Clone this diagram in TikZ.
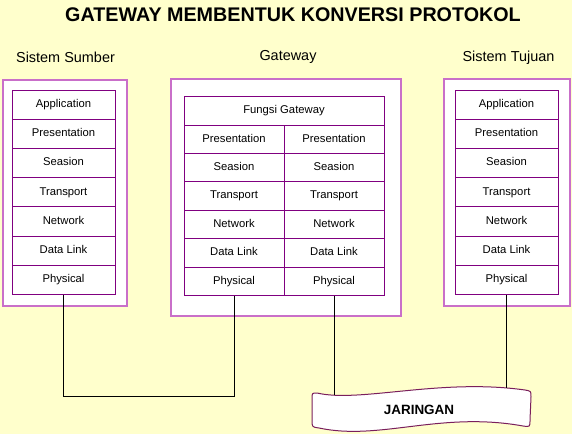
\documentclass[tikz,border=0pt]{standalone}
\usepackage{fontspec}
\setmainfont{Liberation Sans}
\usetikzlibrary{positioning}
\tikzset{>=stealth}
\definecolor{bgyellow}{HTML}{FFFFCC}
\definecolor{boxpink}{HTML}{C96FC9}
\definecolor{lyrpurple}{HTML}{800080}
\definecolor{bandpurple}{HTML}{7A1F5C}

\begin{document}
\begin{tikzpicture}[x=1bp,y=-1bp,
	outer/.style = {% outer system boxes
		draw=boxpink, line width=1.3bp, fill=white, inner sep=0pt,},
	lyr/.style = {% layer cells
		draw=lyrpurple, line width=0.9bp, fill=white, inner sep=0pt,
		text height=8.2bp, text depth=2.2bp,
		minimum height=29.2bp, font=\fontsize{11.3}{13}\selectfont,},
	glyr/.style = {% gateway layer cells
		lyr, minimum width=100bp, minimum height=28.4bp,},
	lbl/.style = {% system labels
		inner sep=0pt, font=\fontsize{14.5}{17}\selectfont,},
	wire/.style = {% connectors
		draw=black, line width=0.8bp,},
	]
	
	% background
	\useasboundingbox (0,0) rectangle (572,434);
	\fill[bgyellow] (0,0) rectangle (572,434);
	
	% titles
	\node[inner sep=0pt, font=\bfseries\fontsize{19.8}{23}\selectfont] (title) at (293,15) {GATEWAY MEMBENTUK KONVERSI PROTOKOL};
	\node[lbl] (lsrc) at (65.5,57) {Sistem Sumber};
	\node[lbl] (lgw) at (288,57) {Gateway};
	\node[lbl] (ldst) at (508.5,58) {Sistem Tujuan};
	
	% outer boxes
	\node[outer, minimum width=124bp, minimum height=226bp] (src) at (65,193) {};
	\node[outer, minimum width=230bp, minimum height=237bp] (gw) at (286,197.5) {};
	\node[outer, minimum width=126bp, minimum height=227bp] (dst) at (507,192.5) {};
	
	% source and destination stacks
	\foreach \t [count=\i] in {Application,Presentation,Seasion,Transport,Network,Data Link,Physical} {
		\node[lyr, minimum width=103bp] (s\i) at (63.5,{90+29.2*(\i-0.5)}) {\t};
		\node[lyr, minimum width=103bp] (d\i) at (506.5,{90+29.2*(\i-0.5)}) {\t};
	}
	
	% gateway stack
	\node[lyr, minimum width=200bp, minimum height=29bp] (fg) at (284,110.5) {Fungsi Gateway};
	\foreach \t [count=\i] in {Presentation,Seasion,Transport,Network,Data Link,Physical} {
		\node[glyr] (ga\i) at (234,{125+28.4*(\i-0.5)}) {\t};
		\node[glyr] (gb\i) at (334,{125+28.4*(\i-0.5)}) {\t};
	}
	
	% network banner
	\draw[draw=bandpurple, line width=1bp, fill=white]
		(317,393) .. controls (360,403) and (440,378) .. (525,390)
		.. controls (531,391) .. (531,397) -- (530,420)
		.. controls (530,427) .. (523,426)
		.. controls (440,411) and (380,441) .. (319,428)
		.. controls (312,427) .. (312,420) -- (312,399)
		.. controls (312,393) .. (317,393);
	\node[inner sep=0pt, font=\bfseries\fontsize{13.5}{16}\selectfont] (jaringan) at (419,410) {JARINGAN};
	\coordinate (jL) at (334,395.3);
	\coordinate (jR) at (506.5,387.6);
	
	% connectors
	\coordinate (lp) at (0,396);
	\draw[wire] (s7.south) -- (s7.south |- lp) -| (ga6.south);
	\draw[wire] (gb6.south) -- (jL);
	\draw[wire] (d7.south) -- (jR);

\end{tikzpicture}
\end{document}
